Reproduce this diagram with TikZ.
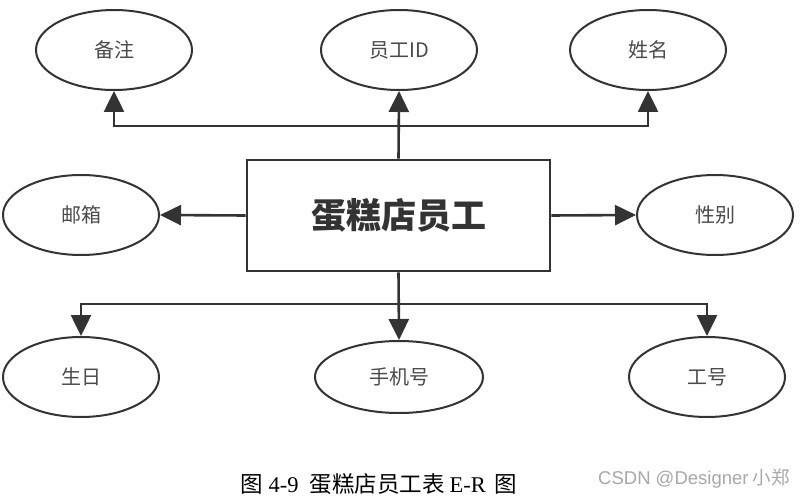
\documentclass[tikz,border=0pt]{standalone}
\usepackage{fontspec}
\setmainfont{Noto Sans CJK SC}
\newfontfamily\cjk{Noto Sans CJK SC}
\newfontfamily\latserif{Liberation Serif}
\newfontfamily\latsans{Liberation Sans}
\usetikzlibrary{shapes.geometric,arrows.meta}
\definecolor{ln}{HTML}{333333}
\definecolor{lbl}{HTML}{4A4A4A}
\definecolor{wm}{HTML}{A8A8A8}
\begin{document}
\begin{tikzpicture}[x=1pt,y=-1pt,
  attr/.style={ellipse,draw=ln,line width=2pt,minimum width=156pt,minimum height=80pt,inner sep=0pt,
    font=\cjk\fontsize{20}{20}\selectfont,text=lbl},
  ent/.style={rectangle,draw=ln,line width=2.8pt,minimum width=303pt,minimum height=111pt,inner sep=0pt,
    font=\cjk\bfseries\fontsize{35}{35}\selectfont,text=ln},
  conn/.style={draw=ln,line width=2.6pt},
  arr/.style={conn,-{Triangle[length=21pt,width=20pt]}}]
\useasboundingbox (0,0) rectangle (805,497);
\fill[white] (0,0) rectangle (805,497);
% attributes
\node[attr] (note) at (114,50) {备注};
\node[attr] (eid) at (399,50) {员工ID};
\node[attr] (name) at (648,50) {姓名};
\node[attr] (mail) at (81,215) {邮箱};
\node[attr] (sex) at (715,215) {性别};
\node[attr] (birth) at (81,377) {生日};
\node[attr,minimum width=168pt,minimum height=72pt] (phone) at (399,377) {手机号};
\node[attr] (wno) at (707,377) {工号};
% entity
\node[ent] (emp) at (398.5,215.5) {蛋糕店员工};
% junctions
\coordinate (jt) at (398.5,126);
\coordinate (jb) at (398.5,304);
% connectors
\draw[arr] (emp.north) -- (eid.south);
\draw[arr] (jt) -| (note.south);
\draw[arr] (jt) -| (name.south);
\draw[arr] (emp.west) -- (mail.east);
\draw[arr] (emp.east) -- (sex.west);
\draw[arr] (emp.south) -- (phone.north);
\draw[arr] (jb) -| (birth.north);
\draw[arr] (jb) -| (wno.north);
% caption
\node[anchor=west,inner sep=0pt,font=\fontsize{22.5}{22.5}\selectfont,text=black] (cap) at (240,484)
  {{\cjk 图}\hspace{6pt}{\latserif 4-9}\hspace{11pt}{\cjk 蛋糕店员工表}\hspace{5pt}{\latserif E-R}\hspace{9pt}{\cjk 图}};
\node[anchor=west,inner sep=0pt,font=\fontsize{18.5}{18.5}\selectfont,text=wm] (wmk) at (598,479)
  {{\latsans CSDN @Designer} {\cjk 小郑}};
\end{tikzpicture}
\end{document}
